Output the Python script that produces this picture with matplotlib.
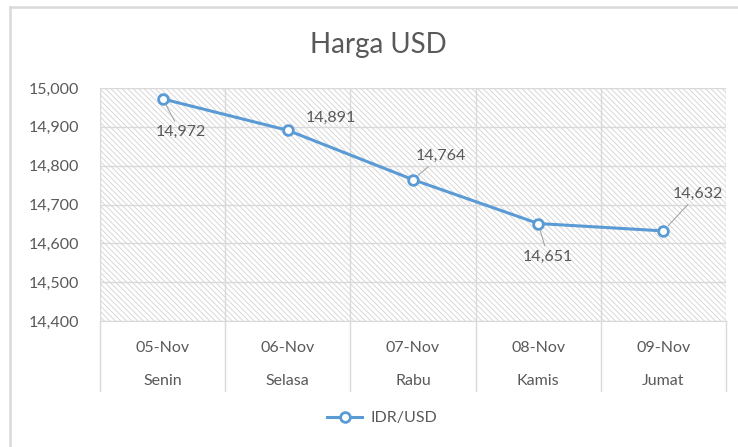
import matplotlib
matplotlib.use("Agg")
import matplotlib.pyplot as plt
from matplotlib.patches import Rectangle
from matplotlib.lines import Line2D
from matplotlib.ticker import FuncFormatter, MultipleLocator
import matplotlib.transforms as mtransforms

# data
dates = ["05-Nov", "06-Nov", "07-Nov", "08-Nov", "09-Nov"]
days = ["Senin", "Selasa", "Rabu", "Kamis", "Jumat"]
idr_usd = [14972, 14891, 14764, 14651, 14632]

# label offsets (points) from each marker
label_dx = [13, 31, 20, 7, 25]
label_dy = [-24, 9, 17, -24, 27]
leader = [True, False, True, True, True]

plt.rcParams["font.family"] = ["Lato", "DejaVu Sans"]
plt.rcParams["hatch.color"] = "#d2d2d2"
plt.rcParams["hatch.linewidth"] = 0.6

txt = "#595959"
grid_c = "#d9d9d9"
blue = "#5B9BD5"

fig = plt.figure(figsize=(7.38, 4.47), dpi=100)
ax = fig.add_axes([100 / 738, 1 - 321 / 447, 626 / 738, 233 / 447])

# hatched plot area
ax.set_facecolor("white")
ax.add_patch(Rectangle((0, 0), 1, 1, transform=ax.transAxes, facecolor="white",
                       edgecolor="#d2d2d2", hatch="\\" * 6, linewidth=0, zorder=0))

x = list(range(len(dates)))
ax.plot(x, idr_usd, color=blue, lw=2.2, marker="o", ms=7, mfc="white",
        mec=blue, mew=2, zorder=5, label="IDR/USD")

for i, v in enumerate(idr_usd):
    ap = dict(arrowstyle="-", color="#a6a6a6", lw=0.8, shrinkA=1, shrinkB=5) if leader[i] else None
    ax.annotate(f"{v:,}", (i, v), xytext=(label_dx[i], label_dy[i]),
                textcoords="offset points", ha="center", va="center",
                fontsize=11.5, color=txt, arrowprops=ap, zorder=6)

ax.set_xlim(-0.5, len(dates) - 0.5)
ax.set_ylim(14400, 15000)
ax.yaxis.set_major_locator(MultipleLocator(100))
ax.yaxis.set_major_formatter(FuncFormatter(lambda v, p: f"{int(v):,}"))
ax.tick_params(axis="y", length=0, pad=15, labelsize=11.5, labelcolor=txt)
ax.set_xticks([])
ax.set_xticks([i - 0.5 for i in range(len(dates) + 1)], minor=True)
ax.tick_params(axis="x", which="both", length=0, labelbottom=False)
ax.grid(axis="y", color=grid_c, lw=1, zorder=1)
ax.grid(axis="x", which="minor", color=grid_c, lw=1, zorder=1)
ax.set_axisbelow(True)
for s in ["top", "right", "left"]:
    ax.spines[s].set_visible(False)
ax.spines["bottom"].set_color(grid_c)

# multi-level category axis
trans = mtransforms.blended_transform_factory(ax.transData, ax.transAxes)
for i in range(len(dates) + 1):
    ax.add_line(Line2D([i - 0.5, i - 0.5], [0, -70 / 233], transform=trans,
                       color=grid_c, lw=1, clip_on=False))
for i in range(len(dates)):
    ax.text(i, -27 / 233, dates[i], transform=trans, ha="center", va="center",
            fontsize=11.5, color=txt)
    ax.text(i, -60 / 233, days[i], transform=trans, ha="center", va="center",
            fontsize=11.5, color=txt)

fig.text(378 / 738, 1 - 45 / 447, "Harga USD", ha="center", va="center",
         fontsize=20, color=txt)

fig.legend(loc="center", bbox_to_anchor=(382 / 738, 1 - 418 / 447), frameon=False,
           fontsize=11.5, labelcolor=txt, handlelength=2.2, handletextpad=0.5)

# chart border
fig.add_artist(Line2D([10 / 738, 10 / 738], [0, 1 - 7 / 447], transform=fig.transFigure,
                      color=grid_c, lw=1.8))
fig.add_artist(Line2D([10 / 738, 1], [1 - 7 / 447, 1 - 7 / 447], transform=fig.transFigure,
                      color=grid_c, lw=1.8))

fig.savefig("out.png", dpi=100)
